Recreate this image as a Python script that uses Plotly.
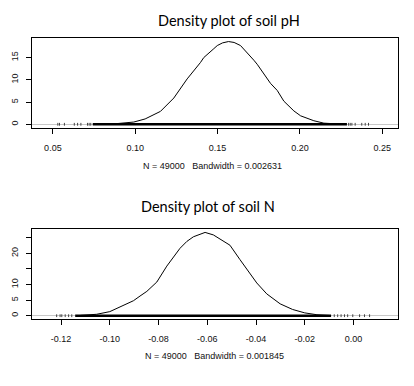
import plotly.graph_objects as go

# ---- data: soil pH density ----
ph_x = [0.085, 0.093, 0.0991, 0.106, 0.1133, 0.1153, 0.1234, 0.1275, 0.1315,
        0.1396, 0.1416, 0.1477, 0.1498, 0.1530, 0.1566, 0.1600, 0.1639, 0.1720, 0.1740,
        0.1821, 0.1862, 0.1902, 0.1963, 0.2004, 0.2084, 0.2145, 0.225]
ph_d = [0.02, 0.2, 0.5, 1.2, 2.5, 2.9, 5.9, 8.0, 10.2,
        13.9, 15.0, 17.0, 17.7, 18.3, 18.6, 18.4, 17.7, 14.4, 13.5,
        9.2, 7.6, 5.2, 3.0, 1.9, 0.8, 0.25, 0.03]
ph_rug_sparse = [0.053, 0.054, 0.057, 0.063, 0.065, 0.067, 0.071, 0.072, 0.073,
                 0.2295, 0.2305, 0.2315, 0.2335, 0.2375, 0.2396, 0.2416]
ph_rug_dense = [0.0742, 0.2285]
ph_yticks = [0, 5, 10, 15]
ph_yticktext = ["0", "5", "10", "15"]
ph_xticks = [0.05, 0.10, 0.15, 0.20, 0.25]
ph_xticktext = ["0.05", "0.10", "0.15", "0.20", "0.25"]

# ---- data: soil N density ----
n_x = [-0.112, -0.1054, -0.1000, -0.0944, -0.0903, -0.0876, -0.0848, -0.0807,
       -0.0766, -0.0712, -0.0684, -0.0657, -0.0609, -0.0575, -0.0548, -0.0507, -0.0466,
       -0.0438, -0.0397, -0.0356, -0.0301, -0.0250, -0.0200, -0.0150, -0.0100]
n_d = [0.1, 0.45, 1.3, 3.3, 4.8, 6.3, 7.8, 10.8,
       15.9, 21.6, 23.8, 25.3, 26.7, 25.9, 24.6, 22.6, 18.0,
       15.0, 10.5, 7.0, 3.8, 2.0, 0.9, 0.3, 0.08]
n_rug_sparse = [-0.1218, -0.1204, -0.1197, -0.1183, -0.1169, -0.1156,
                -0.0079, -0.0065, -0.0051, -0.0037, -0.0024, -0.0003, 0.0025, 0.0045, 0.0066]
n_rug_dense = [-0.1142, -0.0092]
n_yticks = [0, 5, 10, 15, 20, 25]
n_yticktext = ["0", "5", "10", "", "20", ""]
n_xticks = [-0.12, -0.10, -0.08, -0.06, -0.04, -0.02, 0.00]
n_xticktext = ["-0.12", "-0.10", "-0.08", "-0.06", "-0.04", "-0.02", "0.00"]

titles = ["Density plot of soil pH", "Density plot of soil N"]
subtitles = ["N = 49000   Bandwidth = 0.002631", "N = 49000   Bandwidth = 0.001845"]

W, H = 414, 386
fig = go.Figure()

def add_panel(xv, dv, sparse, dense, xa, ya):
    fig.add_trace(go.Scatter(x=xv, y=dv, mode="lines",
                             line=dict(color="black", width=1),
                             xaxis=xa, yaxis=ya, hoverinfo="skip", showlegend=False))
    fig.add_trace(go.Scatter(x=dense, y=[0, 0], mode="lines",
                             line=dict(color="black", width=2.5),
                             xaxis=xa, yaxis=ya, hoverinfo="skip", showlegend=False))
    fig.add_trace(go.Scatter(x=sparse, y=[0] * len(sparse), mode="markers",
                             marker=dict(symbol="line-ns", size=2,
                                         line=dict(color="#444", width=1)),
                             xaxis=xa, yaxis=ya, hoverinfo="skip", showlegend=False))

add_panel(ph_x, ph_d, ph_rug_sparse, ph_rug_dense, "x", "y")
add_panel(n_x, n_d, n_rug_sparse, n_rug_dense, "x2", "y2")

tickfont = dict(family="Liberation Sans, Arial, sans-serif", size=9, color="#111")
xdom = [32.3 / W, 398 / W]

def xaxis(rng, tv, tt, anchor):
    return dict(domain=xdom, range=rng, tickvals=tv, ticktext=tt, anchor=anchor,
                showline=True, linecolor="black", linewidth=1, mirror=True,
                ticks="outside", ticklen=5, tickcolor="black", tickwidth=1,
                showgrid=False, zeroline=False, tickfont=tickfont,
                ticklabelstandoff=6)

def yaxis(dom, rng, tv, tt, anchor):
    return dict(domain=dom, range=rng, tickvals=tv, ticktext=tt, anchor=anchor,
                showline=True, linecolor="black", linewidth=1, mirror=True,
                ticks="outside", ticklen=5, tickcolor="black", tickwidth=1,
                showgrid=False, zeroline=True, zerolinecolor="#c8c8c8", zerolinewidth=1,
                tickangle=-90, tickfont=tickfont, ticklabelstandoff=5)

fig.update_layout(
    width=W, height=H, margin=dict(l=0, r=0, t=0, b=0),
    paper_bgcolor="white", plot_bgcolor="white",
    xaxis=xaxis([0.0375, 0.2595], ph_xticks, ph_xticktext, "y"),
    yaxis=yaxis([1 - 127.7 / H, 1 - 38 / H], [-0.77, 19.4], ph_yticks, ph_yticktext, "x"),
    xaxis2=xaxis([-0.1318, 0.01826], n_xticks, n_xticktext, "y2"),
    yaxis2=yaxis([1 - 319 / H, 1 - 229.3 / H], [-1.06, 27.7], n_yticks, n_yticktext, "x2"),
)

title_font = dict(family="Lato, Open Sans, sans-serif", size=14.5, color="black")
sub_font = dict(family="Liberation Sans, Arial, sans-serif", size=9, color="#111")
for t, (cx, cy) in zip(titles, [(229, 21), (207.5, 206)]):
    fig.add_annotation(text=t, x=cx / W, y=1 - cy / H, xref="paper", yref="paper",
                       showarrow=False, font=title_font, xanchor="center", yanchor="middle")
for t, (cx, cy) in zip(subtitles, [(213, 166), (214.5, 355.7)]):
    fig.add_annotation(text=t, x=cx / W, y=1 - cy / H, xref="paper", yref="paper",
                       showarrow=False, font=sub_font, xanchor="center", yanchor="middle")

fig.write_html("out.html", config={"displayModeBar": False},
               post_script="document.body.style.margin='0';")
